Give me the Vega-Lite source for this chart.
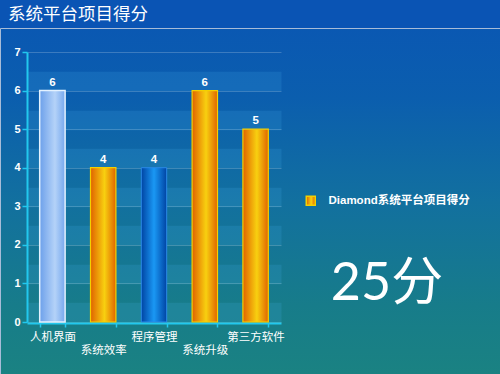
{
  "$schema": "https://vega.github.io/schema/vega-lite/v6.json",
  "width": 500,
  "height": 374,
  "autosize": {"type": "fit", "contains": "padding"},
  "padding": {"top": 5, "left": 0, "right": 0, "bottom": 0},
  "background": "#0a54b4",
  "title": {
    "text": "系统平台项目得分",
    "anchor": "start",
    "frame": "group",
    "dx": 8,
    "font": "Noto Sans CJK SC",
    "fontSize": 17.5,
    "fontWeight": "normal",
    "color": "white",
    "offset": 5
  },
  "config": {
    "view": {
      "fill": {
        "gradient": "linear",
        "x1": 0, "x2": 0, "y1": 0, "y2": 1,
        "stops": [
          {"offset": 0, "color": "#0a58b2"},
          {"offset": 0.2, "color": "#0b5eae"},
          {"offset": 0.5, "color": "#12709f"},
          {"offset": 0.8, "color": "#177c8a"},
          {"offset": 1, "color": "#1a8282"}
        ]
      },
      "stroke": "#a8bcd8",
      "strokeWidth": 1
    },
    "legend": {
      "orient": "none",
      "legendX": 305,
      "legendY": 167,
      "padding": 0,
      "titleOrient": "bottom",
      "titleFontSize": 52,
      "titleFont": "Lato, Noto Sans CJK SC",
      "titleFontWeight": "normal",
      "titleColor": "white",
      "titleAnchor": "middle",
      "titlePadding": 51,
      "symbolType": "square",
      "symbolSize": 81,
      "symbolFillColor": "#f08a00",
      "symbolStrokeColor": "#f8d000",
      "symbolStrokeWidth": 1.5,
      "symbolOpacity": 1,
      "labelColor": "white",
      "labelFont": "Liberation Sans, Noto Sans CJK SC",
      "labelFontWeight": "bold",
      "labelFontSize": 11.5,
      "labelOffset": 12,
      "labelLimit": 300
    }
  },
  "data": {
    "values": [
      {"item": "人机界面", "score": 6},
      {"item": "系统效率", "score": 4},
      {"item": "程序管理", "score": 4},
      {"item": "系统升级", "score": 6},
      {"item": "第三方软件", "score": 5}
    ]
  },
  "encoding": {
    "x": {
      "field": "item",
      "type": "nominal",
      "sort": null,
      "scale": {
        "domain": ["人机界面", "系统效率", "程序管理", "系统升级", "第三方软件"],
        "range": [27, 281],
        "paddingInner": 0.5,
        "paddingOuter": 0.25
      },
      "axis": {
        "title": null,
        "offset": -51,
        "domainColor": "#22c8ee",
        "domainWidth": 2,
        "tickColor": "#22c8ee",
        "tickWidth": 1.5,
        "tickSize": 4,
        "tickBand": "extent",
        "grid": false,
        "labelColor": "white",
        "labelFont": "Noto Sans CJK SC",
        "labelFontSize": 11.5,
        "labelAngle": 0,
        "labelPadding": 4,
        "labelBaseline": "top",
        "labelLineHeight": 13.5,
        "labelOverlap": false,
        "labelBound": false,
        "labelLimit": 200,
        "labelExpr": "round(datum.index*4) % 2 == 1 ? ['', datum.label] : datum.label"
      }
    },
    "y": {
      "field": "score",
      "type": "quantitative",
      "scale": {"domain": [0, 7], "range": [294, 24], "nice": false},
      "axis": {
        "title": null,
        "offset": -27,
        "values": [0, 0.25, 1, 1.25, 2, 2.25, 3, 3.25, 4, 4.25, 5, 5.25, 6, 6.25, 7],
        "labelExpr": "datum.value % 1 > 0 ? '' : format(datum.value, 'd')",
        "grid": true,
        "gridColor": {"condition": {"test": "datum.value % 1 > 0", "value": "#4ab4f4"}, "value": "#ffffff"},
        "gridWidth": {"condition": {"test": "datum.value % 1 > 0", "value": 19.3}, "value": 1},
        "gridOpacity": {"condition": {"test": "datum.value % 1 > 0", "value": 0.16}, "value": 0.2},
        "tickOpacity": {"condition": {"test": "datum.value % 1 > 0", "value": 0}, "value": 1},
        "domainColor": "#22c8ee",
        "domainWidth": 2,
        "tickColor": "#22c8ee",
        "tickWidth": 1.5,
        "tickSize": 5,
        "labelColor": "white",
        "labelFont": "Liberation Sans",
        "labelFontWeight": "bold",
        "labelFontSize": 11,
        "labelPadding": 2
      }
    }
  },
  "layer": [
    {
      "transform": [{"filter": {"field": "item", "equal": "人机界面"}}],
      "mark": {
        "type": "bar",
        "fill": {
          "gradient": "linear", "x1": 0, "x2": 1, "y1": 0, "y2": 0,
          "stops": [
            {"offset": 0, "color": "#6ca0ea"},
            {"offset": 0.6, "color": "#b4d2f8"},
            {"offset": 1, "color": "#76a8ee"}
          ]
        },
        "stroke": "#e4f2ff",
        "strokeWidth": 1.5
      }
    },
    {
      "transform": [{"filter": {"field": "item", "oneOf": ["系统效率", "系统升级", "第三方软件"]}}],
      "mark": {
        "type": "bar",
        "fill": {
          "gradient": "linear", "x1": 0, "x2": 1, "y1": 0, "y2": 0,
          "stops": [
            {"offset": 0, "color": "#e06200"},
            {"offset": 0.55, "color": "#f8d010"},
            {"offset": 1, "color": "#e06400"}
          ]
        },
        "strokeWidth": 1.2
      },
      "encoding": {
        "stroke": {
          "datum": "Diamond系统平台项目得分",
          "type": "nominal",
          "scale": {"range": ["#f4d000"]},
          "legend": {"title": "25分"}
        }
      }
    },
    {
      "transform": [{"filter": {"field": "item", "equal": "程序管理"}}],
      "mark": {
        "type": "bar",
        "fill": {
          "gradient": "linear", "x1": 0, "x2": 1, "y1": 0, "y2": 0,
          "stops": [
            {"offset": 0, "color": "#0044a4"},
            {"offset": 0.5, "color": "#1a98f4"},
            {"offset": 1, "color": "#0044a4"}
          ]
        },
        "stroke": "#2a8ae8",
        "strokeWidth": 1
      }
    },
    {
      "mark": {
        "type": "text",
        "baseline": "bottom",
        "dy": -3,
        "color": "white",
        "font": "Liberation Sans",
        "fontWeight": "bold",
        "fontSize": 11.5
      },
      "encoding": {
        "text": {"field": "score", "type": "quantitative"}
      }
    }
  ]
}
